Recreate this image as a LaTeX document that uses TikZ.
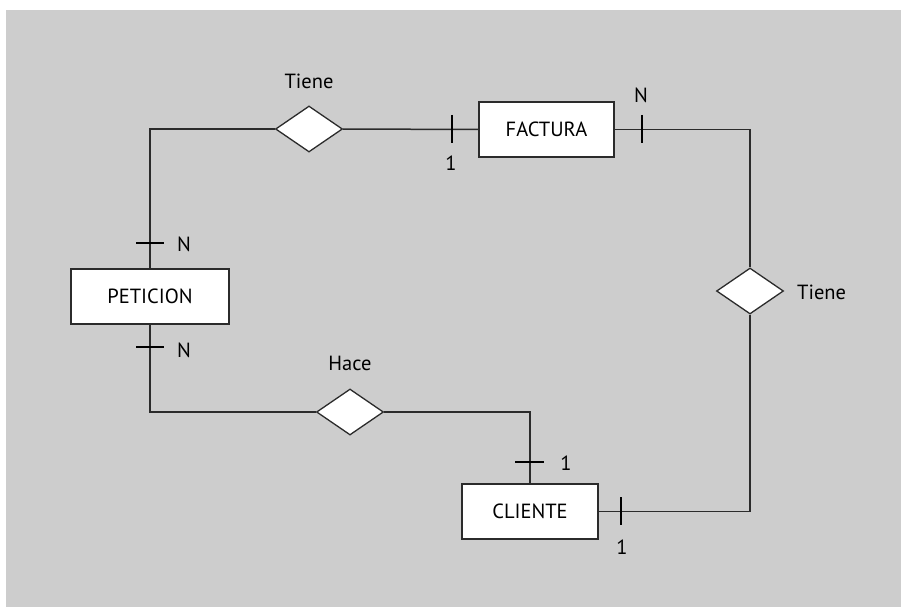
\documentclass[tikz,border=0pt]{standalone}
\usepackage{fontspec}
\setmainfont{PT Sans}
\usetikzlibrary{shapes.geometric, positioning}

\definecolor{fondo}{HTML}{CDCDCD}
\definecolor{linea}{HTML}{2B2B2B}

\begin{document}
\begin{tikzpicture}[x=1pt, y=-1pt,
    entidad/.style={draw=linea, line width=1.3pt, fill=white, minimum width=#1, minimum height=55pt, inner sep=0pt, font=\fontsize{20.5}{24}\selectfont},
    relacion/.style={draw=linea, line width=1.3pt, fill=white, diamond, minimum width=67pt, minimum height=46pt, inner sep=0pt},
    etiqueta/.style={inner sep=0pt, font=\fontsize{20.5}{24}\selectfont},
    enlace/.style={draw=linea, line width=1.5pt},
    marca/.style={draw=black, line width=2.6pt}]
    % Fondo
    \fill[white] (0,0) rectangle (901,607);
    \fill[fondo] (6,10) rectangle (901,607);

    % Entidades
    \node[entidad=158pt] (peticion) at (150,296.5) {PETICION};
    \node[entidad=135pt] (factura) at (546.5,129.5) {FACTURA};
    \node[entidad=136pt] (cliente) at (530,511.5) {CLIENTE};

    % Relaciones
    \node[relacion] (tieneA) at (309,129) {};
    \node[relacion] (tieneB) at (750,291) {};
    \node[relacion] (hace) at (350,412) {};

    % Nombres de las relaciones
    \node[etiqueta] (lblTieneA) at (309,81) {Tiene};
    \node[etiqueta, anchor=west] (lblTieneB) at (797,292) {Tiene};
    \node[etiqueta] (lblHace) at (350,363) {Hace};

    % Enlaces
    \draw[enlace] (peticion.north) |- (tieneA.west);
    \draw[enlace] (tieneA.east) -- (factura.west);
    \draw[enlace] (factura.east) -| (tieneB.north);
    \draw[enlace] (tieneB.south) |- (cliente.east);
    \draw[enlace] (peticion.south) |- (hace.west);
    \draw[enlace] (hace.east) -| (cliente.north);

    % Cardinalidades
    \draw[marca] (136,243) -- (164,243);
    \node[etiqueta] (cardA) at (184,244) {N};
    \draw[marca] (136,347) -- (164,347);
    \node[etiqueta] (cardB) at (184,350) {N};
    \draw[marca] (452,115) -- (452,143);
    \node[etiqueta] (cardC) at (451,163) {1};
    \draw[marca] (642,115) -- (642,143);
    \node[etiqueta] (cardD) at (641,95) {N};
    \draw[marca] (515,462) -- (544,462);
    \node[etiqueta] (cardE) at (566,463) {1};
    \draw[marca] (621,497) -- (621,525);
    \node[etiqueta] (cardF) at (622,547) {1};
\end{tikzpicture}
\end{document}
